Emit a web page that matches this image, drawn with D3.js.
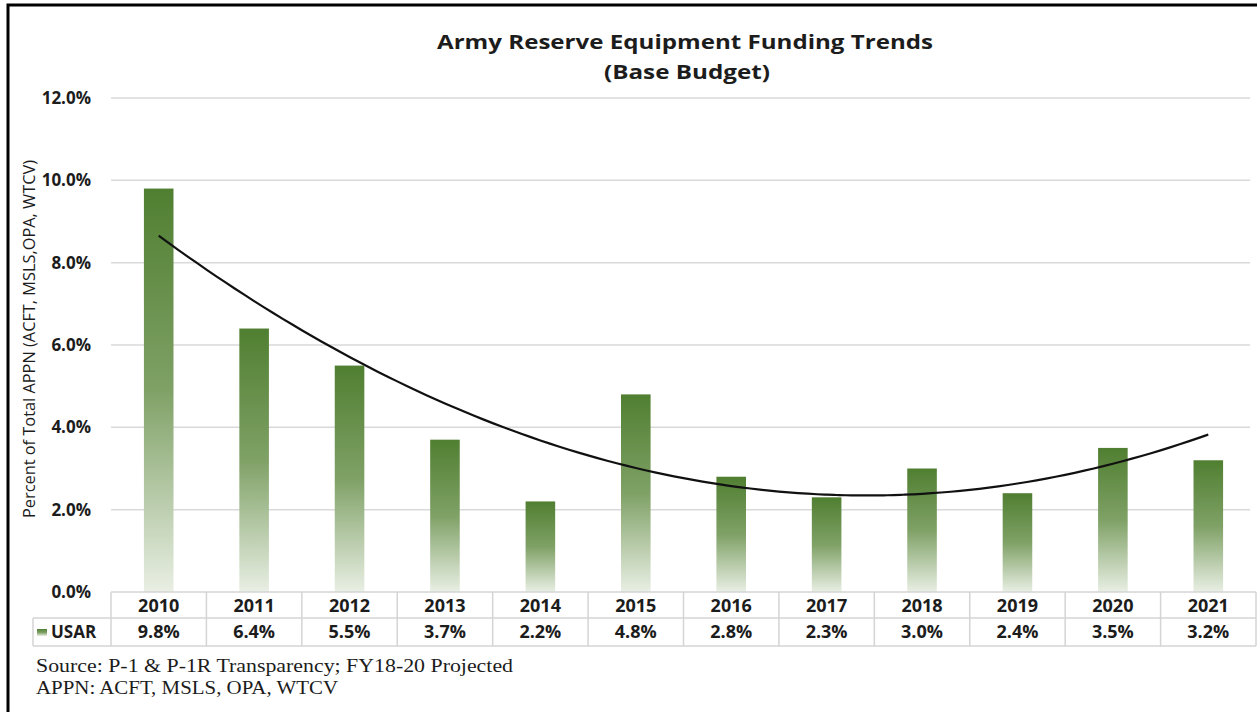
<!DOCTYPE html>
<html>
<head>
<meta charset="utf-8">
<script src="https://cdn.jsdelivr.net/npm/d3@7"></script>
<style>
    body { margin: 0; background: #fff; }
    text { font-family: "Open Sans", "DejaVu Sans", sans-serif; fill: #1c1c1c; }
</style>
</head>
<body>
<script>
(function(){

    //chart data
    var years = ["2010", "2011", "2012", "2013", "2014", "2015", "2016", "2017", "2018", "2019", "2020", "2021"];
    var usar = [9.8, 6.4, 5.5, 3.7, 2.2, 4.8, 2.8, 2.3, 3.0, 2.4, 3.5, 3.2];
    var yTicks = [0, 2, 4, 6, 8, 10, 12];
    var seriesName = "USAR";

    var width = 1257,
        height = 712,
        plotLeft = 111,
        plotRight = 1256,
        plotTop = 98,
        plotBottom = 592;

    var svg = d3.select("body")
        .append("svg")
        .attr("width", width)
        .attr("height", height);

    //gradient for the bars (dark green at top, fading out at the base)
    var defs = svg.append("defs");
    var grad = defs.append("linearGradient")
        .attr("id", "barGrad")
        .attr("x1", 0).attr("y1", 0)
        .attr("x2", 0).attr("y2", 1);
    grad.append("stop").attr("offset", "0%").attr("stop-color", "#507f31");
    grad.append("stop").attr("offset", "50%").attr("stop-color", "#7fa166");
    grad.append("stop").attr("offset", "100%").attr("stop-color", "#e9efe4");

    var x = d3.scaleBand()
        .domain(years)
        .range([plotLeft, plotRight])
        .paddingInner(0)
        .paddingOuter(0);

    var y = d3.scaleLinear()
        .domain([0, 12])
        .range([plotBottom, plotTop]);

    //gridlines
    svg.selectAll(".grid")
        .data(yTicks.filter(function(d){ return d > 0; }))
        .enter()
        .append("line")
        .attr("class", "grid")
        .attr("x1", plotLeft)
        .attr("x2", plotRight - 6)
        .attr("y1", function(d){ return y(d); })
        .attr("y2", function(d){ return y(d); })
        .attr("stroke", "#d9d9d9")
        .attr("stroke-width", 1.5);

    //y tick labels
    svg.selectAll(".ytick")
        .data(yTicks)
        .enter()
        .append("text")
        .attr("class", "ytick")
        .attr("x", 91)
        .attr("y", function(d){ return y(d); })
        .attr("dy", "0.35em")
        .attr("text-anchor", "end")
        .style("font-size", "17px")
        .style("font-weight", "bold")
        .text(function(d){ return d3.format(".1f")(d) + "%"; });

    //y axis title
    svg.append("text")
        .attr("transform", "translate(35,339) rotate(-90)")
        .attr("text-anchor", "middle")
        .attr("textLength", 358)
        .attr("lengthAdjust", "spacingAndGlyphs")
        .style("font-size", "16px")
        .text("Percent of Total APPN (ACFT, MSLS,OPA, WTCV)");

    //bars
    var barW = x.bandwidth() * 0.31;
    svg.selectAll(".bar")
        .data(usar)
        .enter()
        .append("rect")
        .attr("class", "bar")
        .attr("x", function(d, i){ return x(years[i]) + x.bandwidth() / 2 - barW / 2; })
        .attr("width", barW)
        .attr("y", function(d){ return y(d); })
        .attr("height", function(d){ return plotBottom - y(d); })
        .style("fill", "url(#barGrad)");

    //polynomial (order 2) trendline, least squares fit of the series
    var n = usar.length, s = [0, 0, 0, 0, 0], t = [0, 0, 0];
    usar.forEach(function(v, i){
        for (var k = 0; k < 5; k++) s[k] += Math.pow(i, k);
        for (var k2 = 0; k2 < 3; k2++) t[k2] += v * Math.pow(i, k2);
    });
    var M = [[s[0], s[1], s[2], t[0]], [s[1], s[2], s[3], t[1]], [s[2], s[3], s[4], t[2]]];
    for (var c = 0; c < 3; c++){
        for (var r = c + 1; r < 3; r++){
            var f = M[r][c] / M[c][c];
            for (var k = c; k < 4; k++) M[r][k] -= f * M[c][k];
        }
    }
    var coef = [0, 0, 0];
    for (var r2 = 2; r2 >= 0; r2--){
        var sum = M[r2][3];
        for (var k3 = r2 + 1; k3 < 3; k3++) sum -= M[r2][k3] * coef[k3];
        coef[r2] = sum / M[r2][r2];
    }
    var trendPts = d3.range(0, n - 1 + 0.001, 0.1).map(function(i){
        return [i, coef[0] + coef[1] * i + coef[2] * i * i];
    });
    var step = x.step();
    var trendLine = d3.line()
        .x(function(d){ return plotLeft + step / 2 + d[0] * step; })
        .y(function(d){ return y(d[1]); })
        .curve(d3.curveBasis);
    svg.append("path")
        .datum(trendPts)
        .attr("d", trendLine)
        .attr("fill", "none")
        .attr("stroke", "#111")
        .attr("stroke-width", 2.2);

    //data table below the plot
    var tableColor = "#d4d4d4";
    var row1 = plotBottom + 26, row2 = row1 + 28;
    var table = svg.append("g").attr("class", "table");
    table.append("line").attr("x1", plotLeft).attr("x2", plotRight).attr("y1", plotBottom).attr("y2", plotBottom)
        .attr("stroke", tableColor).attr("stroke-width", 1.5);
    [row1, row2].forEach(function(yy){
        table.append("line").attr("x1", 33).attr("x2", plotRight).attr("y1", yy).attr("y2", yy)
            .attr("stroke", tableColor).attr("stroke-width", 1.5);
    });
    table.selectAll(".vline")
        .data(years.concat(["end"]))
        .enter()
        .append("line")
        .attr("class", "vline")
        .attr("x1", function(d, i){ return plotLeft + i * step; })
        .attr("x2", function(d, i){ return plotLeft + i * step; })
        .attr("y1", plotBottom)
        .attr("y2", row2)
        .attr("stroke", tableColor)
        .attr("stroke-width", 1.5);
    table.append("line").attr("x1", 33).attr("x2", 33).attr("y1", row1).attr("y2", row2)
        .attr("stroke", tableColor).attr("stroke-width", 1.5);

    table.selectAll(".yearLabel")
        .data(years)
        .enter()
        .append("text")
        .attr("class", "yearLabel")
        .attr("x", function(d){ return x(d) + x.bandwidth() / 2; })
        .attr("y", (plotBottom + row1) / 2 + 1)
        .attr("dy", "0.35em")
        .attr("text-anchor", "middle")
        .style("font-size", "18px")
        .style("font-weight", "bold")
        .text(function(d){ return d; });

    table.selectAll(".valLabel")
        .data(usar)
        .enter()
        .append("text")
        .attr("class", "valLabel")
        .attr("x", function(d, i){ return x(years[i]) + x.bandwidth() / 2; })
        .attr("y", (row1 + row2) / 2)
        .attr("dy", "0.35em")
        .attr("text-anchor", "middle")
        .style("font-size", "18px")
        .style("font-weight", "bold")
        .text(function(d){ return d3.format(".1f")(d) + "%"; });

    //legend key in the table
    table.append("rect")
        .attr("x", 37).attr("y", (row1 + row2) / 2 - 3)
        .attr("width", 10).attr("height", 7)
        .style("fill", "url(#barGrad)");
    table.append("text")
        .attr("x", 51)
        .attr("y", (row1 + row2) / 2)
        .attr("dy", "0.35em")
        .style("font-size", "17px")
        .style("font-weight", "bold")
        .text(seriesName);

    //title
    svg.append("text")
        .attr("x", 685).attr("y", 49)
        .attr("text-anchor", "middle")
        .attr("textLength", 496)
        .attr("lengthAdjust", "spacingAndGlyphs")
        .style("font-size", "20px")
        .style("font-weight", "bold")
        .text("Army Reserve Equipment Funding Trends");
    svg.append("text")
        .attr("x", 687).attr("y", 79)
        .attr("text-anchor", "middle")
        .attr("textLength", 166)
        .attr("lengthAdjust", "spacingAndGlyphs")
        .style("font-size", "20px")
        .style("font-weight", "bold")
        .text("(Base Budget)");

    //source notes
    svg.append("text")
        .attr("x", 36).attr("y", 672)
        .attr("textLength", 477)
        .attr("lengthAdjust", "spacingAndGlyphs")
        .style("font-family", "'Liberation Serif', serif")
        .style("font-size", "18px")
        .text("Source: P-1 & P-1R Transparency; FY18-20 Projected");
    svg.append("text")
        .attr("x", 36).attr("y", 694)
        .attr("textLength", 302)
        .attr("lengthAdjust", "spacingAndGlyphs")
        .style("font-family", "'Liberation Serif', serif")
        .style("font-size", "18px")
        .text("APPN: ACFT, MSLS, OPA, WTCV");

    //outer frame (left and top edges visible)
    svg.append("path")
        .attr("d", "M8," + height + " L8,5 L" + width + ",5")
        .attr("fill", "none")
        .attr("stroke", "#000")
        .attr("stroke-width", 3);

})();
</script>
</body>
</html>
